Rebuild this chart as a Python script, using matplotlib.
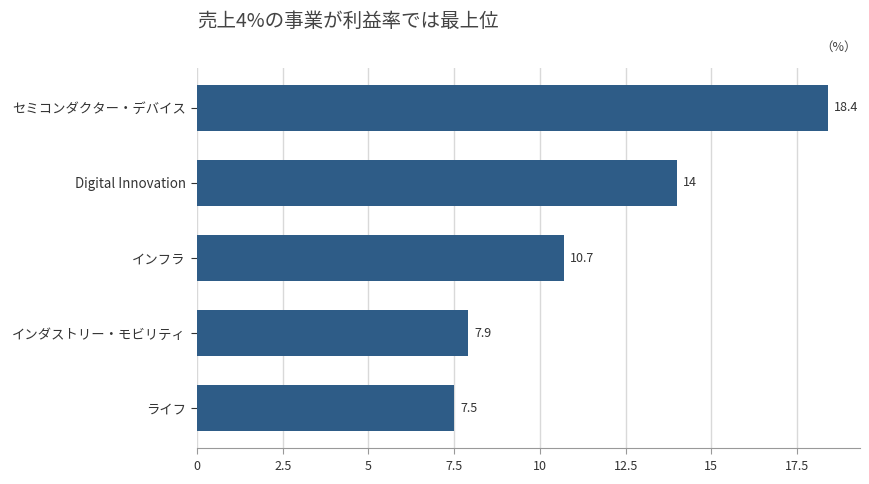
import matplotlib
matplotlib.use("Agg")
import matplotlib.pyplot as plt

plt.rcParams['font.family'] = ['Noto Sans CJK JP', 'DejaVu Sans']

categories = ["セミコンダクター・デバイス", "Digital Innovation", "インフラ",
              "インダストリー・モビリティ", "ライフ"]
values = [18.4, 14, 10.7, 7.9, 7.5]
value_labels = ["18.4", "14", "10.7", "7.9", "7.5"]
xticks = [0, 2.5, 5, 7.5, 10, 12.5, 15, 17.5]
xtick_labels = ["0", "2.5", "5", "7.5", "10", "12.5", "15", "17.5"]
title = "売上4%の事業が利益率では最上位"
unit = "（%）"

fig = plt.figure(figsize=(8.7, 4.84), dpi=100)
ax = fig.add_axes([0.2264, 0.0744, 0.762, 0.785])

ypos = list(range(len(categories)))
ax.barh(ypos, values, height=0.62, color="#2e5c87", zorder=3)
for y, v, lab in zip(ypos, values, value_labels):
    ax.text(v + 0.18, y, lab, va="center", ha="left", fontsize=9, color="#333333")

ax.set_yticks(ypos)
ax.set_yticklabels(categories, fontsize=9.6, color="#333333")
ax.invert_yaxis()
ax.set_ylim(4.53, -0.53)
ax.set_xlim(0, 19.33)
ax.set_xticks(xticks)
ax.set_xticklabels(xtick_labels, fontsize=9, color="#333333")

ax.grid(axis="x", color="#d9d9d9", linewidth=1, zorder=0)
for s in ["top", "right", "left"]:
    ax.spines[s].set_visible(False)
ax.spines["bottom"].set_color("#999999")
ax.tick_params(axis="y", length=4, width=0.8, color="#333333", pad=4)
ax.tick_params(axis="x", length=4, width=0.8, color="#999999", pad=5)

fig.text(0.2264, 0.955, title, fontsize=14, color="#444444", ha="left", va="center")
fig.text(0.985, 0.902, unit, fontsize=9, color="#444444", ha="right", va="center")

fig.savefig("out.png", dpi=100)
